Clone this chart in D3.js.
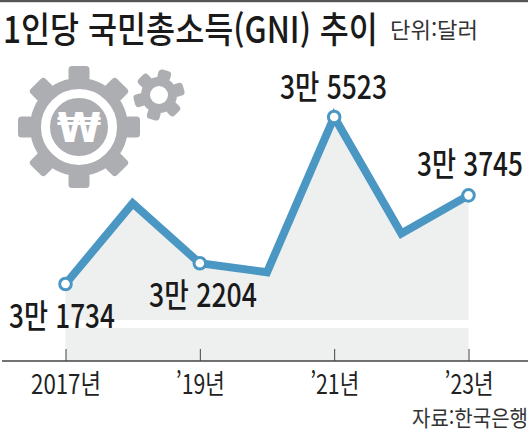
<!DOCTYPE html>
<html lang="ko"><head><meta charset="utf-8">
<style>html,body{margin:0;padding:0;background:#fff}svg{display:block}text{font-family:"Noto Sans CJK KR","Liberation Sans",sans-serif}</style>
<script src="https://cdn.jsdelivr.net/npm/d3@7/dist/d3.min.js"></script></head><body>
<svg id="c" width="530" height="431"></svg>
<script>
const years = [2017, 2018, 2019, 2020, 2021, 2022, 2023];
const gni = [31734, 33564, 32204, 32000, 35523, 32880, 33745];
const tickYears = [2017, 2019, 2021, 2023];
const tickLabels = ["2017년", "’19년", "’21년", "’23년"];
const markedYears = [2017, 2019, 2021, 2023];
const valueLabels = ["3만 1734", "3만 2204", "3만 5523", "3만 3745"];
const labelPos = [[9,328],[149,307],[280,99],[417,176]];
const labelWidths = [106,108,107,106];

const svg = d3.select("#c");
const x = d3.scaleLinear().domain([2017,2023]).range([65.5,468.5]);
const y = d3.scaleLinear().domain([31734,35523]).range([284,117]);
const baseY = 361;
const rows = years.map((d,i)=>({year:d,value:gni[i]}));

// Squeeze a text horizontally to a given width, keeping its box truthful.
function squeeze(node,px,py,w,anchor){
  const natural=node.getComputedTextLength();
  const sx=w/natural;
  d3.select(node).attr("x",0).attr("y",0).attr("text-anchor",anchor||"start")
    .attr("transform",`translate(${px},${py}) scale(${sx},1)`);
}

svg.append("rect").attr("x",0).attr("y",0).attr("width",528).attr("height",2.2).attr("fill","#555");

squeeze(svg.append("text").attr("font-size",36).attr("font-weight",500).attr("fill","#1a1a1a")
  .text("1인당 국민총소득(GNI) 추이").node(),3,43,375);
squeeze(svg.append("text").attr("font-size",22).attr("fill","#333").text("단위:달러").node(),390,38,88);

function gear(cx,cy,bodyR,outerR,teeth,toothW,rot){
  const g=svg.append("g").attr("transform",`translate(${cx},${cy})`).attr("fill","#adaeb2");
  g.append("circle").attr("r",bodyR);
  d3.range(teeth).forEach(i=>{
    g.append("rect").attr("x",-toothW/2).attr("y",-outerR).attr("width",toothW).attr("height",outerR-bodyR+3)
     .attr("rx",3.5).attr("transform",`rotate(${rot+i*360/teeth})`);
  });
  return g;
}
const big=gear(79,127,49,61,8,21,0);
big.append("circle").attr("r",33.5).attr("fill","none").attr("stroke","#fff").attr("stroke-width",9);
big.append("text").attr("text-anchor","middle").attr("y",15).attr("font-size",40).attr("font-weight",700)
   .attr("fill","#fff").style("font-family","'DejaVu Sans'").text("₩");
const small=gear(159,95,18,25.5,6,13,15);
small.append("circle").attr("r",9).attr("fill","#fff");

const area=d3.area().x(d=>x(d.year)).y0(baseY).y1(d=>y(d.value));
svg.append("path").datum(rows).attr("d",area).attr("fill","#eeefef");
svg.append("rect").attr("x",x(2017)).attr("y",320).attr("width",x(2023)-x(2017)+1).attr("height",8).attr("fill","#fff");

const axis=d3.axisBottom(x).tickValues(tickYears).tickFormat((d,i)=>tickLabels[i]).tickSizeInner(-12).tickSizeOuter(0);
const ax=svg.append("g").attr("transform",`translate(0,${baseY})`).call(axis);
ax.select(".domain").remove();
ax.append("line").attr("x1",2).attr("x2",528).attr("stroke","#444").attr("stroke-width",1.4);
ax.selectAll(".tick line").attr("stroke","#444").attr("stroke-width",1);
ax.selectAll(".tick text").attr("dy",0).attr("font-size",27).attr("fill","#222")
  .each(function(d){ squeeze(this,0,33,d===2017?70:49,"middle"); });

const line=d3.line().x(d=>x(d.year)).y(d=>y(d.value));
svg.append("path").datum(rows).attr("d",line).attr("fill","none").attr("stroke","#4b97c4").attr("stroke-width",8).attr("stroke-linejoin","miter");

svg.selectAll("circle.m").data(rows.filter(d=>markedYears.includes(d.year))).join("circle").attr("class","m")
  .attr("cx",d=>x(d.year)).attr("cy",d=>y(d.value)).attr("r",5.8).attr("fill","#fff").attr("stroke","#4b97c4").attr("stroke-width",3);

svg.selectAll("text.v").data(valueLabels).join("text").attr("class","v")
  .attr("font-size",33).attr("font-weight",500).attr("fill","#1a1a1a").text(d=>d)
  .each(function(d,i){ squeeze(this,labelPos[i][0],labelPos[i][1],labelWidths[i]); });

squeeze(svg.append("text").attr("font-size",22).attr("fill","#333").text("자료:한국은행").node(),412,426,116);
</script></body></html>
